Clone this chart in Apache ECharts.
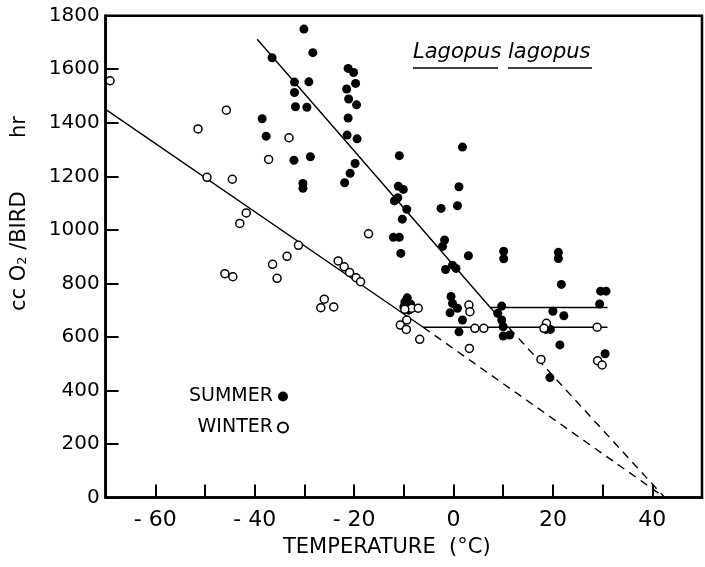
<!DOCTYPE html>
<html>
<head>
<meta charset="utf-8">
<style>
  html, body { margin: 0; padding: 0; background: #fff; }
  #main { width: 705px; height: 567px; }
</style>
<script src="https://cdn.jsdelivr.net/npm/echarts@6/dist/echarts.min.js"></script>
</head>
<body>
<div id="main"></div>
<script>
// values: [temperature °C, cc O2/bird/hr]
var summer = [
  [-30.1,1750],[-28.3,1662],[-36.5,1643],[-32.0,1552],[-29.1,1553],[-32.0,1513],[-31.8,1460],[-29.5,1458],
  [-38.5,1415],[-37.7,1350],[-32.1,1260],[-28.8,1273],[-30.3,1173],[-30.3,1155],
  [-21.2,1603],[-20.1,1588],[-19.7,1547],[-21.5,1526],[-21.1,1489],[-19.5,1467],[-21.2,1418],[-21.4,1354],
  [-19.4,1340],[-19.8,1248],[-20.8,1211],[-21.9,1176],
  [-10.9,1277],[-11.1,1163],[-10.1,1151],[-11.9,1108],[-11.2,1120],[-9.4,1077],[-10.3,1040],[-12.1,972],
  [-10.9,972],[-10.6,912],
  [1.8,1309],[1.1,1161],[-2.5,1080],[0.8,1090],[-1.8,962],[-2.2,938],[3.0,903],[-1.6,852],[-0.2,868],[0.5,856],
  [10.1,920],[10.1,892],[21.1,916],[21.1,893],
  [-9.3,746],[-9.8,730],[-8.6,722],[-10.0,712],[-9.0,700],
  [-0.5,751],[-0.2,725],[0.8,707],[-0.7,690],[1.8,663],[1.1,619],
  [9.7,715],[8.9,688],[9.7,663],[10.0,638],[10.0,603],[11.3,607],
  [19.4,448],[21.7,796],[20.0,696],[22.2,679],[18.6,628],[19.5,628],[21.4,570],
  [29.6,771],[30.7,771],[29.4,723],[30.5,537]
];
var winter = [
  [-69.1,1557],[-45.7,1447],[-51.4,1377],[-33.1,1344],[-37.2,1263],[-49.6,1196],[-44.5,1189],[-41.7,1063],[-43.0,1024],
  [-31.2,942],[-33.5,901],[-36.4,871],[-35.5,819],[-46.0,836],[-44.4,825],
  [-23.2,884],[-22.0,862],[-20.9,841],[-19.6,821],[-18.7,806],[-17.1,985],
  [-26.0,741],[-26.7,709],[-24.1,712],
  [-8.4,707],[-7.1,707],[-9.8,703],[-10.7,644],[-9.4,663],[-9.5,628],[-6.8,591],
  [3.1,719],[3.3,694],[4.3,632],[6.1,632],[3.2,557],
  [17.6,516],[18.7,651],[18.2,632],[28.9,636],[29.0,511],[29.9,495]
];
// fitted lines
var summerFit = [[-39.5,1712],[7.4,710],[31,710]];
var summerExt = [[7.4,710],[42.5,0]];
var winterFit = [[-70,1450],[-6.1,636],[31,636]];
var winterExt = [[-6.1,636],[42.5,0]];

var xTicks = [-60,-40,-20,0,20,40];

var font = 'DejaVu Sans';
var chart = echarts.init(document.getElementById('main'));

function fitLine(name, data, dashed) {
  return {
    name: name, type: 'line', data: data, showSymbol: false, silent: true, z: 1,
    lineStyle: { color: '#000', width: 1.4, type: dashed ? [8, 6] : 'solid' }
  };
}

chart.setOption({
  backgroundColor: '#fff',
  animation: false,
  grid: { left: 105.6, right: -8.7, top: 15.7, bottom: 69.5, show: true, borderColor: '#000', borderWidth: 2.5 },
  legend: {
    data: ['SUMMER', 'WINTER'],
    orient: 'vertical', left: 184, top: 382, align: 'right',
    itemWidth: 10, itemHeight: 10, itemGap: 12,
    textStyle: { fontFamily: font, fontSize: 19, color: '#000' }
  },
  xAxis: {
    type: 'value', min: -70, max: 50, interval: 10,
    name: 'TEMPERATURE  (°C)', nameLocation: 'middle', nameGap: 40,
    nameTextStyle: { fontFamily: font, fontSize: 21, color: '#000', padding: [0, 34, 0, 0] },
    splitLine: { show: false },
    axisLine: { onZero: false, lineStyle: { color: '#000', width: 2.5 } },
    axisTick: { inside: true, length: 13, lineStyle: { color: '#000', width: 2 } },
    axisLabel: {
      fontFamily: font, fontSize: 22, color: '#000', margin: 12,
      formatter: function (v) { return xTicks.indexOf(v) >= 0 ? (v < 0 ? '- ' + (-v) : String(v)) : ''; }
    }
  },
  yAxis: {
    type: 'value', min: 0, max: 1800, interval: 200,
    name: '{t|cc O}{s|2}{t| /BIRD        hr}', nameLocation: 'middle', nameGap: 76, nameRotate: 90,
    nameTextStyle: {
      padding: [0, 0, 0, 86],
      rich: {
        t: { fontFamily: font, fontSize: 21, color: '#000' },
        s: { fontFamily: font, fontSize: 13, color: '#000', verticalAlign: 'bottom', padding: [8, 0, 0, 0] }
      }
    },
    splitLine: { show: false },
    axisLine: { onZero: false, lineStyle: { color: '#000', width: 2.5 } },
    axisTick: { inside: true, length: 13, lineStyle: { color: '#000', width: 2 } },
    axisLabel: { fontFamily: font, fontSize: 20, color: '#000', margin: 6, formatter: function (v) { return String(v); } }
  },
  graphic: [
    { type: 'text', left: 413, top: 42, style: { text: 'Lagopus', font: 'italic 21px "DejaVu Sans"', fill: '#000' } },
    { type: 'text', left: 508, top: 42, style: { text: 'lagopus', font: 'italic 21px "DejaVu Sans"', fill: '#000' } },
    { type: 'line', shape: { x1: 413, y1: 68, x2: 498, y2: 68 }, style: { stroke: '#000', lineWidth: 1.3 } },
    { type: 'line', shape: { x1: 508, y1: 68, x2: 592, y2: 68 }, style: { stroke: '#000', lineWidth: 1.3 } }
  ],
  series: [
    fitLine('summerFit', summerFit, false),
    fitLine('summerExt', summerExt, true),
    fitLine('winterFit', winterFit, false),
    fitLine('winterExt', winterExt, true),
    {
      name: 'SUMMER', type: 'scatter', data: summer, symbol: 'circle', symbolSize: 9, z: 3,
      itemStyle: { color: '#000', opacity: 1 }
    },
    {
      name: 'WINTER', type: 'scatter', data: winter, symbol: 'circle', symbolSize: 8, z: 4,
      itemStyle: { color: '#fff', borderColor: '#000', borderWidth: 1.5, opacity: 1 }
    }
  ]
});
</script>
</body>
</html>
